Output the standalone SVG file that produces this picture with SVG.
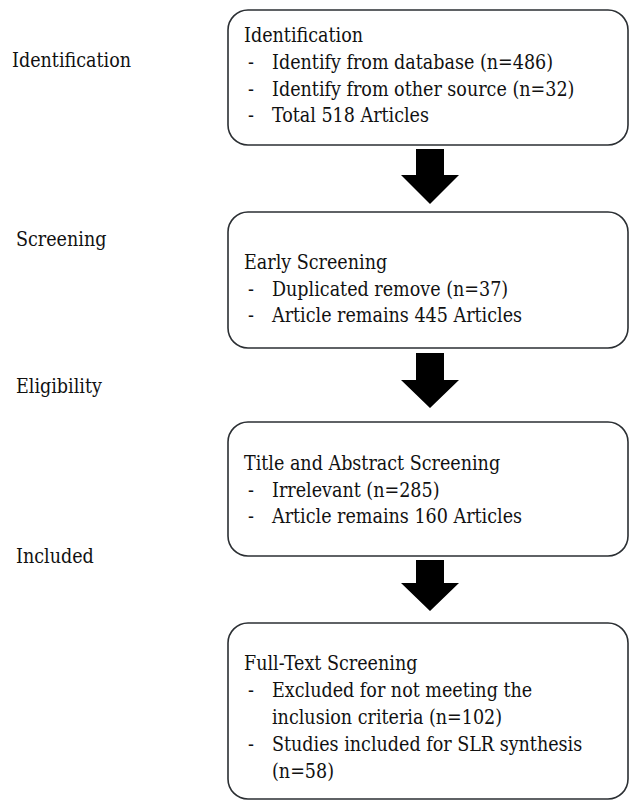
<svg xmlns="http://www.w3.org/2000/svg" width="630" height="801" viewBox="0 0 630 801">
<style>
.box{fill:#fff;stroke:#2b2f33;stroke-width:1.6}
.t{font-size:19.5px;fill:#111}
.lab{font-size:19.5px;fill:#111}
.arr{fill:#000}
</style>
<rect width="630" height="801" fill="#fff"/>
<g font-family="DejaVu Serif Condensed, DejaVu Serif, serif" font-stretch="condensed">
<g id="stage-labels">
<text class="lab" x="12" y="67">Identification</text>
<text class="lab" x="16" y="246">Screening</text>
<text class="lab" x="16" y="393">Eligibility</text>
<text class="lab" x="16" y="563">Included</text>
</g>
<g id="node-identification">
<rect class="box" x="228" y="10" width="400" height="135" rx="20"/>
<text class="t" x="244" y="42">Identification</text>
<text class="t" x="248" y="69">-</text><text class="t" x="272" y="69">Identify from database (n=486)</text>
<text class="t" x="248" y="96">-</text><text class="t" x="272" y="96">Identify from other source (n=32)</text>
<text class="t" x="248" y="122">-</text><text class="t" x="272" y="122">Total 518 Articles</text>
</g>
<g id="node-early-screening">
<rect class="box" x="228" y="212" width="400" height="136" rx="20"/>
<text class="t" x="244" y="269">Early Screening</text>
<text class="t" x="248" y="296">-</text><text class="t" x="272" y="296">Duplicated remove (n=37)</text>
<text class="t" x="248" y="322">-</text><text class="t" x="272" y="322">Article remains 445 Articles</text>
</g>
<g id="node-title-abstract">
<rect class="box" x="228" y="422" width="400" height="134" rx="20"/>
<text class="t" x="244" y="470">Title and Abstract Screening</text>
<text class="t" x="248" y="497">-</text><text class="t" x="272" y="497">Irrelevant (n=285)</text>
<text class="t" x="248" y="523">-</text><text class="t" x="272" y="523">Article remains 160 Articles</text>
</g>
<g id="node-full-text">
<rect class="box" x="228" y="623" width="400" height="176" rx="20"/>
<text class="t" x="244" y="670">Full-Text Screening</text>
<text class="t" x="248" y="697">-</text><text class="t" x="272" y="697">Excluded for not meeting the</text>
<text class="t" x="272" y="724">inclusion criteria (n=102)</text>
<text class="t" x="248" y="751">-</text><text class="t" x="272" y="751">Studies included for SLR synthesis</text>
<text class="t" x="272" y="778">(n=58)</text>
</g>
</g>
<g id="connectors">
<path class="arr" d="M416,149 H444 V175 H459 L430,204 L401,175 H416 Z"/>
<path class="arr" d="M416,353 H444 V380 H459 L430,408 L401,380 H416 Z"/>
<path class="arr" d="M416,560 H444 V583 H459 L430,611 L401,583 H416 Z"/>
</g>
</svg>
